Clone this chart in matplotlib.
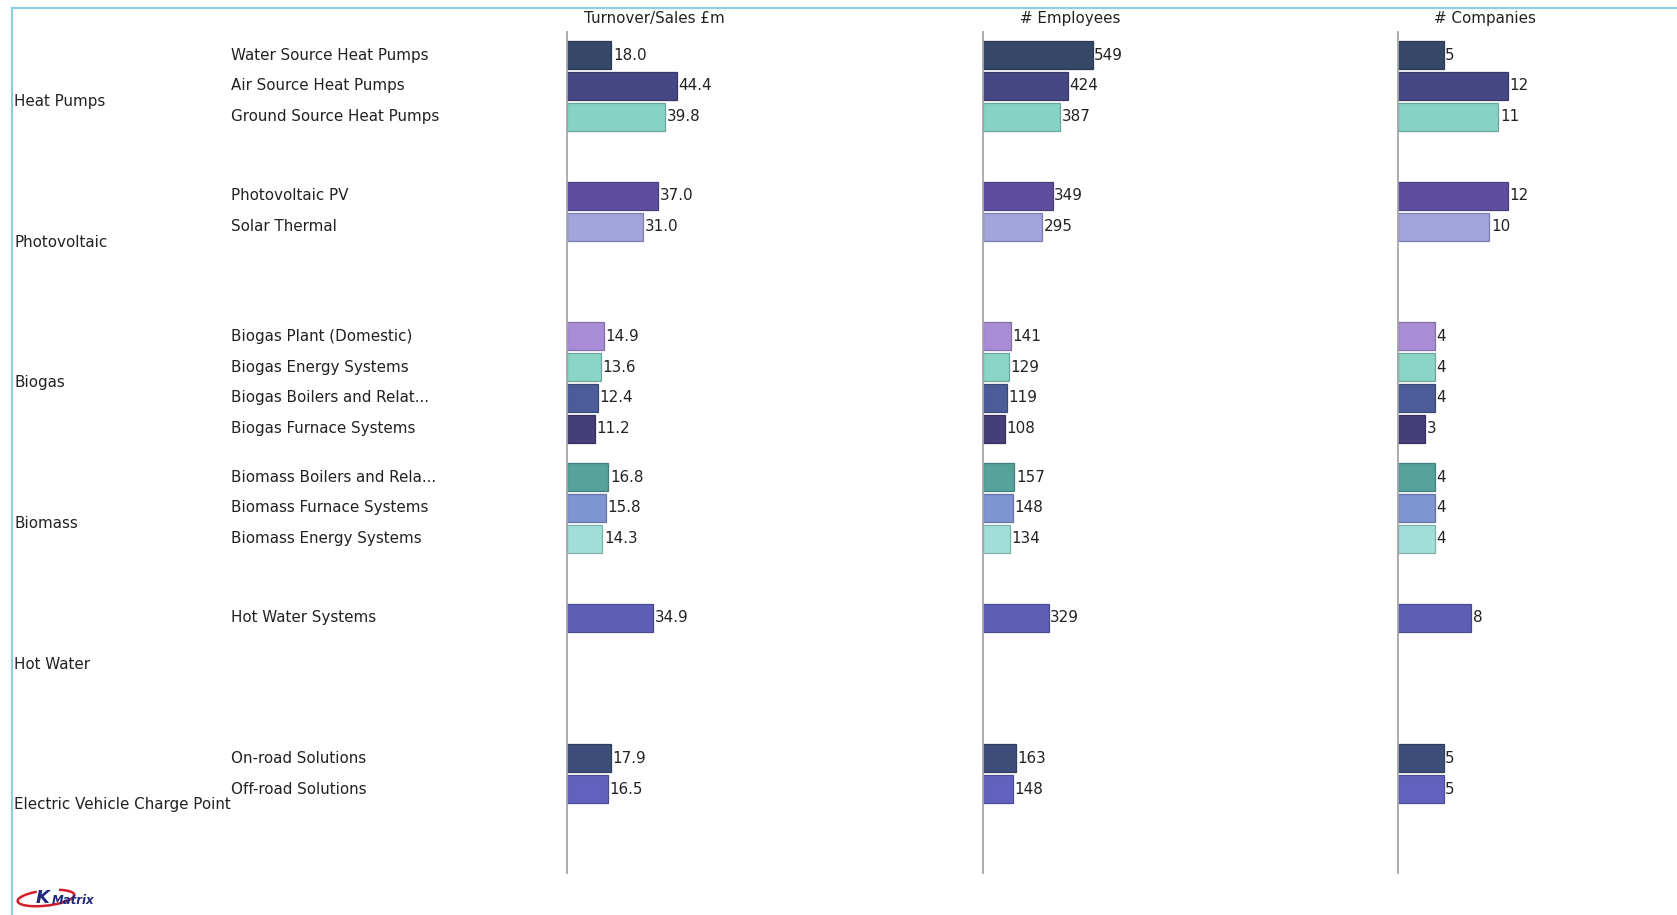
import matplotlib
matplotlib.use("Agg")
import matplotlib.pyplot as plt
from matplotlib.transforms import blended_transform_factory
from matplotlib.patches import Arc
from matplotlib.lines import Line2D
import matplotlib.colors as mcolors

# ---- data ---------------------------------------------------------------
groups = ["Heat Pumps", "Photovoltaic", "Biogas", "Biomass", "Hot Water",
          "Electric Vehicle Charge Point"]

categories = [
    ["Water Source Heat Pumps", "Air Source Heat Pumps", "Ground Source Heat Pumps"],
    ["Photovoltaic PV", "Solar Thermal"],
    ["Biogas Plant (Domestic)", "Biogas Energy Systems", "Biogas Boilers and Relat...",
     "Biogas Furnace Systems"],
    ["Biomass Boilers and Rela...", "Biomass Furnace Systems", "Biomass Energy Systems"],
    ["Hot Water Systems"],
    ["On-road Solutions", "Off-road Solutions"],
]

turnover = [18.0, 44.4, 39.8, 37.0, 31.0, 14.9, 13.6, 12.4, 11.2, 16.8, 15.8, 14.3,
            34.9, 17.9, 16.5]
employees = [549, 424, 387, 349, 295, 141, 129, 119, 108, 157, 148, 134, 329, 163, 148]
companies = [5, 12, 11, 12, 10, 4, 4, 4, 3, 4, 4, 4, 8, 5, 5]

metric_titles = ["Turnover/Sales £m", "# Employees", "# Companies"]

bar_colors = ["#364868", "#464884", "#86D3C5", "#5F4E9E", "#A3A3DD", "#A88DD6",
              "#8AD5C5", "#4C5C98", "#463E78", "#55A39C", "#7F95D1", "#A2DFD8",
              "#5E5EB6", "#3E4E7A", "#6262BE"]

# ---- layout (pixels) ----------------------------------------------------
W, H = 1677, 915
DPI = 100
fig = plt.figure(figsize=(W / DPI, H / DPI), dpi=DPI)
fig.patch.set_facecolor("white")

TEXT = "#222222"
FONT = "DejaVu Sans"
FS = 10.9

def fx(x):
    return x / W

def fy(y):
    return 1 - y / H

AX_TOP, AX_BOT = 32, 873          # vertical extent of the panels
ROW_PX = 30.75                    # pixel height of one row slot
ORIGIN = 31.2                     # pixel y of slot unit 0
BLOCK = 4.574                     # slots per group block
FIRST = 0.78                      # offset of first row inside a block
BAR_H = 0.91
PANEL_W = 415
MAX_BAR_PX = 109.5
panel_x = [567, 983, 1398]

u_top = (AX_TOP - ORIGIN) / ROW_PX
u_bot = (AX_BOT - ORIGIN) / ROW_PX

# row positions in slot units
row_y = []
group_y = []
for b, cats in enumerate(categories):
    top = b * BLOCK
    group_y.append(top + BLOCK / 2)
    for r in range(len(cats)):
        row_y.append(top + FIRST + r)
labels_flat = [c for cats in categories for c in cats]

def darker(c, f=0.78):
    r, g, b = mcolors.to_rgb(c)
    return (r * f, g * f, b * f)

series = [turnover, employees, companies]
fmts = ["{:.1f}", "{:d}", "{:d}"]
axes = []
for i, (vals, fmt) in enumerate(zip(series, fmts)):
    ax = fig.add_axes([fx(panel_x[i]), fy(AX_BOT), PANEL_W / W, (AX_BOT - AX_TOP) / H])
    ax.set_facecolor("none")
    xmax = max(vals) * PANEL_W / MAX_BAR_PX
    ax.set_xlim(0, xmax)
    ax.set_ylim(u_bot, u_top)
    ax.barh(row_y, vals, height=BAR_H, color=bar_colors,
            edgecolor=[darker(c) for c in bar_colors], linewidth=0.9, zorder=2)
    for y, v in zip(row_y, vals):
        ax.text(v + xmax * 0.004, y, fmt.format(v), ha="left", va="center",
                fontsize=FS, color=TEXT, family=FONT, zorder=3)
    for s in ["top", "right", "bottom"]:
        ax.spines[s].set_visible(False)
    ax.spines["left"].set_color("#a6a6a6")
    ax.spines["left"].set_linewidth(1.3)
    ax.set_xticks([])
    ax.set_yticks([])
    axes.append(ax)
    fig.text(fx(panel_x[i] + 87), fy(19), metric_titles[i], ha="center", va="center",
             fontsize=FS, color=TEXT, family=FONT)

# category and group labels
tr = blended_transform_factory(fig.transFigure, axes[0].transData)
for y, lab in zip(row_y, labels_flat):
    axes[0].text(fx(231), y, lab, transform=tr, ha="left", va="center",
                 fontsize=FS, color=TEXT, family=FONT, clip_on=False)
for y, g in zip(group_y, groups):
    axes[0].text(fx(14), y, g, transform=tr, ha="left", va="center",
                 fontsize=FS, color=TEXT, family=FONT, clip_on=False)

# frame lines along the top and left edge
border = "#8fd0e0"
fig.add_artist(Line2D([fx(12), 1.0], [fy(8), fy(8)], color=border, lw=1.6,
                      transform=fig.transFigure))
fig.add_artist(Line2D([fx(12), fx(12)], [fy(8), 0.0], color=border, lw=1.6,
                      transform=fig.transFigure))

# small KMatrix mark at the bottom left
fig.add_artist(Arc((fx(46), fy(898)), 58 / W, 15 / H, angle=14, theta1=115, theta2=395,
                   color="#d0202a", lw=1.8, transform=fig.transFigure))
fig.text(fx(36), fy(898), "K", fontsize=13, fontweight="bold", fontstyle="italic",
         color="#1f2a7a", family=FONT, ha="left", va="center")
fig.text(fx(52), fy(901), "Matrix", fontsize=8.5, fontweight="bold", fontstyle="italic",
         color="#1f2a7a", family=FONT, ha="left", va="center")

fig.savefig("out.png", dpi=DPI, facecolor="white")
